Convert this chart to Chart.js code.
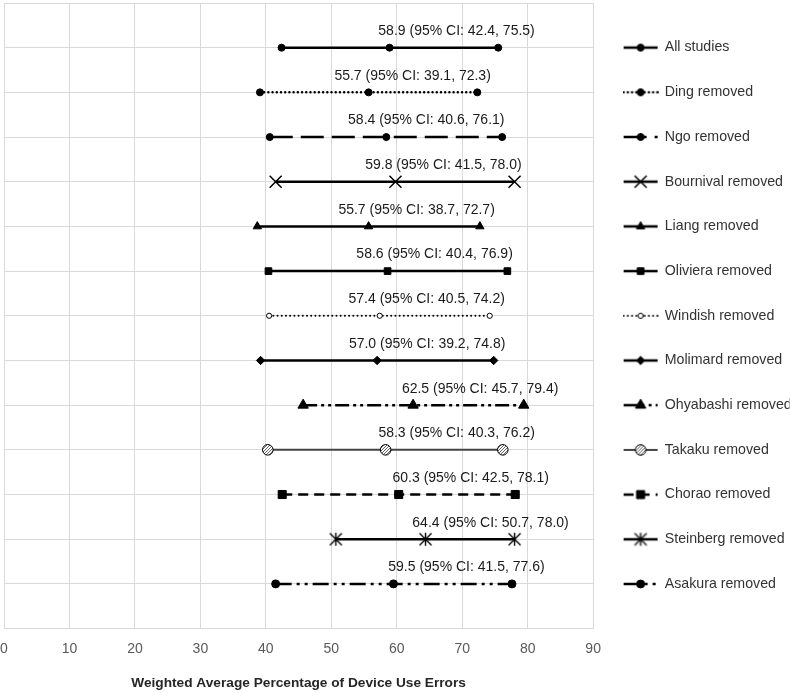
<!DOCTYPE html>
<html>
<head>
<meta charset="utf-8">
<title>Sensitivity analysis</title>
<script src="https://cdn.jsdelivr.net/npm/chart.js@4.4.1/dist/chart.umd.min.js"></script>
<style>
  html, body { margin: 0; padding: 0; background: #fff; }
  #wrap { width: 795px; height: 693px; position: relative; }
</style>
</head>
<body>
<div id="wrap"><canvas id="chart"></canvas></div>
<script>
const studies = [
  'All studies', 'Ding removed', 'Ngo removed', 'Bournival removed', 'Liang removed',
  'Oliviera removed', 'Windish removed', 'Molimard removed', 'Ohyabashi removed',
  'Takaku removed', 'Chorao removed', 'Steinberg removed', 'Asakura removed'
];
const means = [58.9, 55.7, 58.4, 59.8, 55.7, 58.6, 57.4, 57.0, 62.5, 58.3, 60.3, 64.4, 59.5];
const lower = [42.4, 39.1, 40.6, 41.5, 38.7, 40.4, 40.5, 39.2, 45.7, 40.3, 42.5, 50.7, 41.5];
const upper = [75.5, 72.3, 76.1, 78.0, 72.7, 76.9, 74.2, 74.8, 79.4, 76.2, 78.1, 78.0, 77.6];
const xTicks = [0, 10, 20, 30, 40, 50, 60, 70, 80, 90];

const FONT = "'Liberation Sans', Arial, sans-serif";
const INK = '#000';
const GRID = '#d9d9d9';

// dotted fill for the Takaku marker
function dotPattern() {
  const c = document.createElement('canvas');
  c.width = 3; c.height = 3;
  const g = c.getContext('2d');
  g.fillStyle = '#fff';
  g.fillRect(0, 0, 3, 3);
  g.fillStyle = '#666';
  g.fillRect(0, 0, 1, 1);
  g.fillRect(2, 1, 1, 1);
  g.fillRect(1, 2, 1, 1);
  return g.createPattern(c, 'repeat');
}

// X with a vertical stroke (Excel "star" marker)
function asterisk() {
  const c = document.createElement('canvas');
  c.width = 15; c.height = 15;
  const g = c.getContext('2d');
  g.strokeStyle = INK;
  g.lineWidth = 1.4;
  g.beginPath();
  g.moveTo(1.5, 1.5); g.lineTo(13.5, 13.5);
  g.moveTo(13.5, 1.5); g.lineTo(1.5, 13.5);
  g.moveTo(7.5, 1); g.lineTo(7.5, 14);
  g.stroke();
  return c;
}

const round = 'round';
const looks = [
  { dash: [], marker: 'circle', r: 3.5 },
  { dash: [0.01, 4.2], cap: round, marker: 'circle', r: 3.5 },
  { dash: [23, 8], marker: 'circle', r: 3.5 },
  { dash: [], marker: 'crossRot', r: 8.5, bw: 1.5 },
  { dash: [], marker: 'triangle', r: 4.8 },
  { dash: [], marker: 'rect', r: 4.7 },
  { dash: [0.01, 4.2], cap: round, width: 2, marker: 'circle', r: 2.6, fill: '#fff' },
  { dash: [], marker: 'rectRot', r: 4.2 },
  { dash: [14, 4, 3, 4, 3, 4], marker: 'triangle', r: 6 },
  { dash: [], marker: 'circle', r: 5.3, fill: dotPattern(), color: '#444', width: 2 },
  { dash: [10, 6], marker: 'rect', r: 5.7 },
  { dash: [], marker: asterisk(), r: 7 },
  { dash: [16, 5, 3, 5, 3, 5], marker: 'circle', r: 4 }
];
// labels were nudged by hand in the original, px from the middle point
const labelNudge = [67, 44, 40, 48, 48, 47, 47, 50, 67, 71, 72, 65, 73];

function legendIcon(k) {
  const c = document.createElement('canvas');
  c.width = 36; c.height = 16;
  const g = c.getContext('2d');
  g.strokeStyle = k.color || INK;
  g.lineWidth = k.width || 2.5;
  g.lineCap = k.cap || 'butt';
  g.setLineDash(k.dash);
  g.beginPath();
  g.moveTo(1, 8); g.lineTo(35, 8);
  g.stroke();
  g.setLineDash([]);
  g.lineCap = 'butt';
  g.fillStyle = k.fill || INK;
  g.strokeStyle = INK;
  g.lineWidth = k.bw || 1;
  Chart.helpers.drawPoint(g, { pointStyle: k.marker, radius: k.r, borderWidth: k.bw || 1, rotation: 0 }, 18, 8);
  return c;
}

const datasets = studies.map((name, i) => {
  const k = looks[i];
  return {
    label: name,
    data: [
      { x: lower[i], y: i + 1 },
      { x: means[i], y: i + 1 },
      { x: upper[i], y: i + 1 }
    ],
    borderColor: k.color || INK,
    borderWidth: k.width || 2.5,
    borderDash: k.dash,
    borderCapStyle: k.cap || 'butt',
    pointStyle: k.marker,
    pointRadius: k.r,
    pointHoverRadius: k.r,
    pointBackgroundColor: k.fill || INK,
    pointBorderColor: INK,
    pointBorderWidth: k.bw || 1,
    tension: 0,
    fill: false
  };
});

const ciLabels = {
  id: 'ciLabels',
  afterDatasetsDraw(chart) {
    const ctx = chart.ctx;
    ctx.save();
    ctx.font = '14px ' + FONT;
    ctx.fillStyle = '#1a1a1a';
    ctx.textAlign = 'center';
    ctx.textBaseline = 'middle';
    chart.data.datasets.forEach((ds, i) => {
      const pt = chart.getDatasetMeta(i).data[1];
      const txt = means[i].toFixed(1) + ' (95% CI: ' + lower[i].toFixed(1) + ', ' + upper[i].toFixed(1) + ')';
      ctx.fillText(txt, pt.x + labelNudge[i], pt.y - 16.5);
    });
    ctx.restore();
  }
};

new Chart(document.getElementById('chart').getContext('2d'), {
  type: 'line',
  data: { datasets },
  plugins: [ciLabels],
  options: {
    responsive: true,
    maintainAspectRatio: false,
    animation: false,
    layout: { autoPadding: false, padding: { top: 3, left: 4, right: 5.5, bottom: 0 } },
    plugins: {
      legend: {
        position: 'right',
        fullSize: false,
        align: 'center',
        labels: {
          usePointStyle: true,
          pointStyleWidth: 34,
          padding: 30.5,
          color: '#333',
          font: { family: FONT, size: 14.2 },
          generateLabels: (chart) => chart.data.datasets.map((ds, i) => ({
            text: ds.label,
            datasetIndex: i,
            hidden: false,
            pointStyle: legendIcon(looks[i]),
            rotation: 0,
            lineWidth: 0,
            fontColor: '#333',
            fillStyle: 'transparent',
            strokeStyle: 'transparent'
          }))
        }
      },
      tooltip: { enabled: false }
    },
    scales: {
      x: {
        type: 'linear',
        min: xTicks[0],
        max: xTicks[xTicks.length - 1],
        afterBuildTicks: (axis) => { axis.ticks = xTicks.map((v) => ({ value: v })); },
        ticks: { padding: 0, maxRotation: 0, color: '#595959', font: { family: FONT, size: 14, lineHeight: 3 } },
        grid: { color: GRID, drawTicks: false },
        border: { color: GRID },
        title: {
          display: true,
          text: 'Weighted Average Percentage of Device Use Errors',
          color: '#262626',
          font: { family: FONT, size: 13.7, weight: 'bold' },
          padding: { top: 4, bottom: 2 }
        }
      },
      y: {
        type: 'linear',
        min: 0,
        max: studies.length + 1,
        reverse: true,
        ticks: { stepSize: 1, display: false },
        grid: { color: GRID, drawTicks: false },
        border: { color: GRID }
      }
    }
  }
});
</script>
</body>
</html>
